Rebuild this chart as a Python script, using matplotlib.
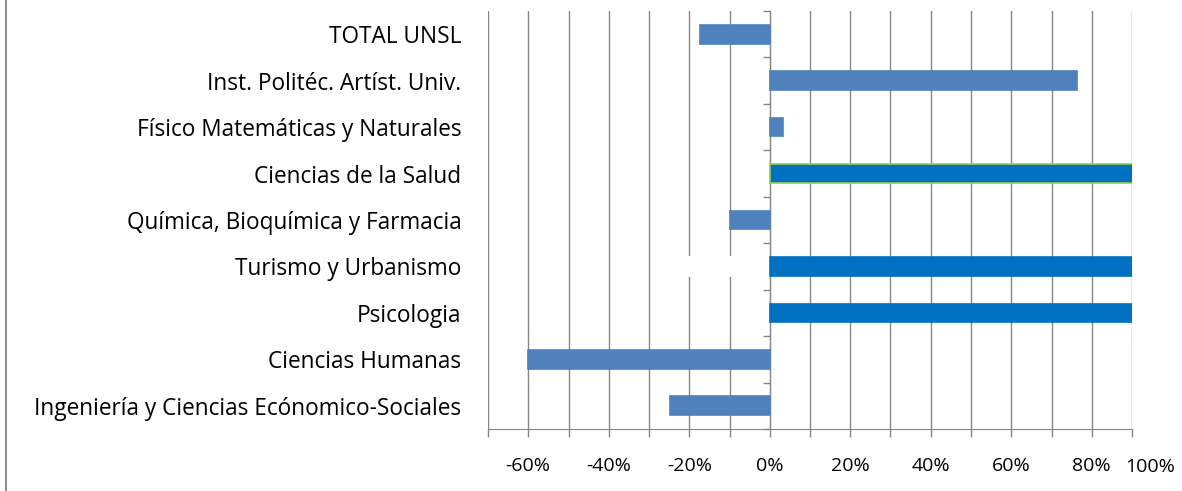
import numpy as np
import matplotlib.pyplot as plt
from matplotlib.lines import Line2D

# datos (de abajo hacia arriba)
facultades = ['Ingeniería y Ciencias Ecónomico-Sociales', 'Ciencias Humanas', 'Psicologia',
              'Turismo y Urbanismo', 'Química, Bioquímica y Farmacia', 'Ciencias de la Salud',
              'Físico Matemáticas y Naturales', 'Inst. Politéc. Artíst. Univ.', 'TOTAL UNSL']
variacion = [-0.247, -0.60, 1.0, 1.0, -0.098, 1.0, 0.033, 0.764, -0.174]
blanco = [0, 0, 0, -0.27, 0, 0, 0, 0, 0]
xtick_vals = [-0.6, -0.4, -0.2, 0.0, 0.2, 0.4, 0.6, 0.8]
xtick_labels = ['-60%', '-40%', '-20%', '0%', '20%', '40%', '60%', '80%']

plt.rcParams['font.family'] = ['Open Sans', 'DejaVu Sans']

azul = '#4F81BD'
azul_fuerte = '#0070C0'
gris = '#868686'
colores = [azul, azul, azul_fuerte, azul_fuerte, azul, azul_fuerte, azul, azul, azul]
bordes = [azul, azul, azul_fuerte, azul_fuerte, azul, '#92D050', azul, azul, azul]

fig = plt.figure(figsize=(11.82, 4.91), dpi=100)
ax = fig.add_axes([488 / 1182, 1 - 429 / 491, (1132 - 488) / 1182, (429 - 11) / 491])

xmin, xmax = -0.7, 0.9
y = np.arange(len(facultades))
ax.barh(y, variacion, height=0.4, color=colores, edgecolor=bordes, linewidth=1.2, zorder=3)
ax.barh(y, blanco, height=0.45, color='white', linewidth=0, zorder=2.5)

ax.set_xlim(xmin, xmax)
ax.set_ylim(-0.5, len(facultades) - 0.5)

ax.set_xticks(np.arange(xmin, xmax + 0.01, 0.1), minor=True)
ax.set_xticks(xtick_vals, labels=xtick_labels)
ax.grid(axis='x', which='both', color=gris, lw=1, zorder=1)
ax.tick_params(axis='x', which='both', direction='out', length=6, color=gris, width=1,
               labelsize=14, pad=14)
ax.text(0.945, -0.091, '100%', transform=ax.get_xaxis_transform(), ha='center', va='center',
        fontsize=14, clip_on=False)

ax.set_yticks(y, labels=facultades)
ax.tick_params(axis='y', length=0, pad=19, labelsize=16.3)

for s in ['top', 'right', 'left']:
    ax.spines[s].set_visible(False)
ax.spines['bottom'].set_color(gris)

# eje vertical en 0 con marcas entre categorías
sec = ax.secondary_yaxis((0 - xmin) / (xmax - xmin))
sec.set_yticks(np.arange(-0.5, len(facultades), 1))
sec.set_yticklabels([])
sec.tick_params(direction='out', length=5, color=gris, width=1)
sec.spines['left'].set_color(gris)

fig.add_artist(Line2D([6 / 1182, 6 / 1182], [0, 1], transform=fig.transFigure, color='#8c8c8c', lw=1.5))

fig.savefig('out.png', dpi=100)
